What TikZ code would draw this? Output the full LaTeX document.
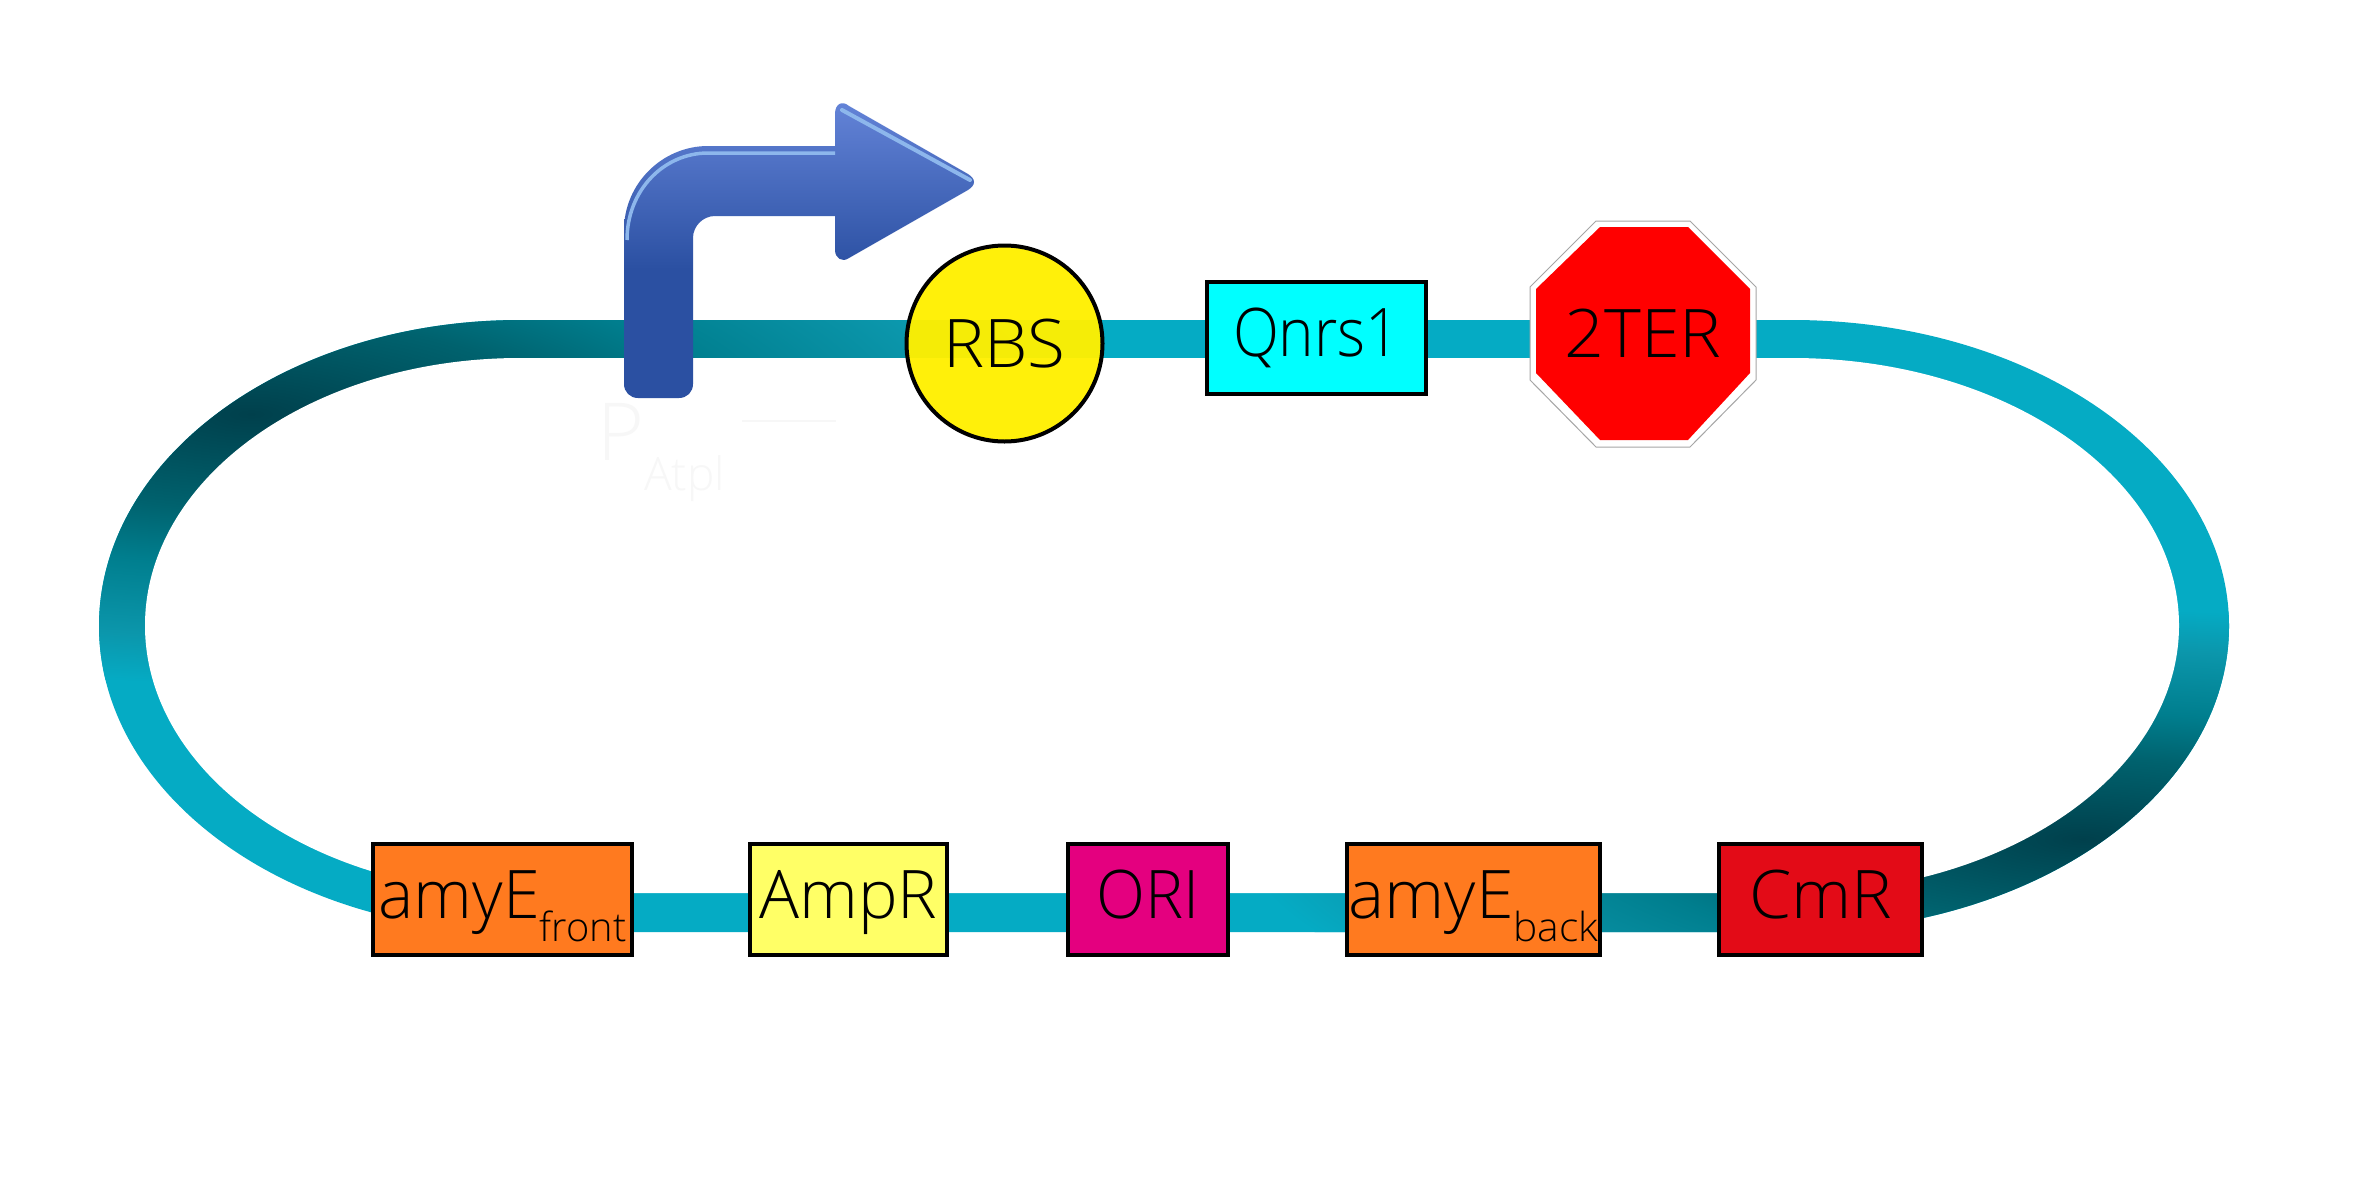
\documentclass[tikz,border=0pt]{standalone}
\usepackage{fontspec}
\usepackage{graphicx}
\setmainfont{Open Sans Light}
\definecolor{bandlight}{HTML}{05ABC4}
\definecolor{bandfour}{HTML}{0B96AB}
\definecolor{bandmid}{HTML}{007E8E}
\definecolor{bandtwo}{HTML}{00626E}
\definecolor{banddark}{HTML}{00404C}
\definecolor{arrowtop}{HTML}{6484D8}
\definecolor{arrowlow}{HTML}{2B50A2}
\definecolor{arrowhi}{HTML}{8DB7EC}
\definecolor{orangebox}{HTML}{FF7A1F}
\definecolor{ampbox}{HTML}{FFFF66}
\definecolor{oribox}{HTML}{E4007F}
\definecolor{cmbox}{HTML}{E30B17}
\definecolor{qnrsbox}{HTML}{00FFFF}
\definecolor{rbsfill}{HTML}{FFF000}
\definecolor{ghost}{HTML}{F7F7F7}
\pgfdeclareradialshading{bandglow}{\pgfpointorigin}{color(0bp)=(banddark); color(8.75bp)=(bandtwo); color(13.75bp)=(bandmid); color(20.5bp)=(bandfour); color(25bp)=(bandlight); color(50bp)=(bandlight)}
\pgfdeclareverticalshading{arrowgrad}{100bp}{color(0bp)=(arrowlow); color(46.6bp)=(arrowlow); color(75bp)=(arrowtop); color(100bp)=(arrowtop)}
\tikzset{
  partbox/.style={draw=black,line width=4pt,rectangle,inner sep=0pt,minimum height=111pt,text=black,
    font=\fontsize{67}{72}\selectfont,text height=47pt,text depth=10pt},
  ghosttext/.style={text=ghost,inner sep=0pt,anchor=base west},
}
\newcommand{\lowsub}[2]{\raisebox{-#1pt}{\fontsize{40}{44}\selectfont #2}}
\newcommand{\fitw}[2]{\resizebox{#1pt}{\height}{#2}}
\begin{document}
\begin{tikzpicture}[x=1pt,y=-1pt]
\useasboundingbox (0,0) rectangle (2362,1181);
\fill[white] (0,0) rectangle (2362,1181);
% loop
\begin{scope}
  \clip (520,320) arc[start angle=270,end angle=90,x radius=421,y radius=306]
     -- (1792,932) arc[start angle=90,end angle=-90,x radius=437,y radius=306] -- cycle;
  \fill[bandlight] (0,0) rectangle (2362,1181);
  \path[shading=bandglow] (251,414) circle[x radius=850,y radius=270];
  \path[shading=bandglow] (2083,839) circle[x radius=840,y radius=230];
  \fill[white] (520,358) arc[start angle=270,end angle=90,x radius=375,y radius=267.5]
     -- (1792,893) arc[start angle=90,end angle=-90,x radius=387,y radius=267.5] -- cycle;
\end{scope}
% faint promoter label
\node[ghosttext,font=\fontsize{80}{84}\selectfont] (pghost) at (597,460) {P};
\node[ghosttext,font=\fontsize{46}{50}\selectfont] (atplghost) at (644,490) {Atpl};
\coordinate (ghostA) at (742,421);
\coordinate (ghostB) at (836,421);
\draw[ghost,line width=2pt] (ghostA) -- (ghostB);
% promoter arrow
\path[shading=arrowgrad] (638,398) -- (679,398) .. controls (687,398) and (693,392) .. (693,384)
  -- (693,238) .. controls (693,226) and (703,216) .. (715,216) -- (835,216) -- (835,250)
  .. controls (835,258) and (842,263) .. (849,258) -- (968,190)
  .. controls (976,185) and (976,179) .. (968,174) -- (849,106)
  .. controls (842,100) and (835,104) .. (835,114) -- (835,146) -- (708,146)
  .. controls (662,146) and (624,184) .. (624,230) -- (624,384)
  .. controls (624,392) and (630,398) .. (638,398) -- cycle;
\draw[arrowhi,line width=3.5pt] (627,240) .. controls (627,190) and (664,153) .. (708,153) -- (835,153);
\draw[arrowhi,line width=4pt,line cap=round] (842,110) -- (970,180);
% parts
\node[partbox,fill=orangebox,minimum width=259pt] (amyEf) at (502.5,899.5) {\fitw{248}{amyE\lowsub{23}{front}}};
\node[partbox,fill=ampbox,minimum width=197pt] (amp) at (848.5,899.5) {\fitw{178}{AmpR}};
\node[partbox,fill=oribox,minimum width=160pt] (ori) at (1148,899.5) {\fitw{103}{ORI}};
\node[partbox,fill=orangebox,minimum width=253pt] (amyEb) at (1473.5,899.5) {\fitw{250}{amyE\lowsub{23}{back}}};
\node[partbox,fill=cmbox,minimum width=203pt] (cm) at (1820.5,899.5) {\fitw{143}{CmR}};
\node[partbox,fill=qnrsbox,minimum width=219pt,minimum height=112pt] (qnrs) at (1316.5,338) {\fitw{167}{Qnrs1}};
\node[circle,draw=black,line width=4pt,fill=rbsfill,fill opacity=.96,text opacity=1,minimum size=196pt,inner sep=0pt,
  font=\fontsize{67}{72}\selectfont,text height=47pt,text depth=0pt] (rbs) at (1004.5,343.5) {\fitw{122}{RBS}};
% terminator
\draw[draw=gray!70,fill=white,line width=1pt] (1596,221) -- (1690,221) -- (1756,287) -- (1756,380) -- (1690,447) -- (1596,447) -- (1530,380) -- (1530,287) -- cycle;
\fill[red] (1600,227) -- (1688,227) -- (1750,289) -- (1750,373) -- (1688,440) -- (1600,440) -- (1536,373) -- (1536,289) -- cycle;
\node[text=black,inner sep=0pt,font=\fontsize{67}{72}\selectfont,text height=47pt,text depth=0pt] (ter) at (1643,333.5) {\fitw{157}{2TER}};
\end{tikzpicture}
\end{document}
